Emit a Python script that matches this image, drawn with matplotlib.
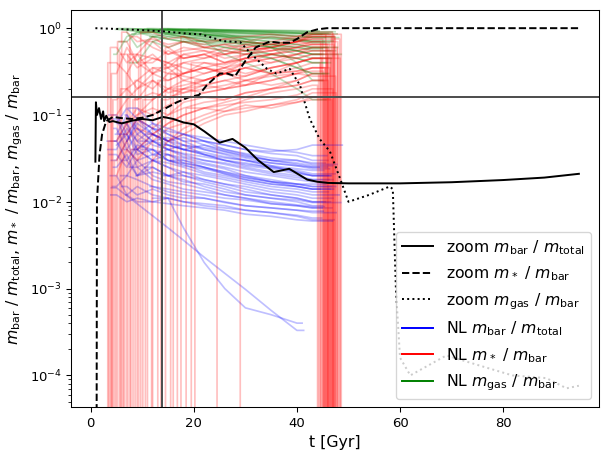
"""
Baryon, stellar and gas fractions of the zoom run against the NL runs.
"""

import numpy as np
import matplotlib

matplotlib.use("Agg")
import matplotlib.pyplot as plt
from matplotlib.lines import Line2D

# ----------------------------------------------------
# Zoom run
# ----------------------------------------------------

zoom_bar_t = [0.9, 1.0, 1.2, 1.6, 2.0, 2.4, 2.6, 3.0, 3.6, 4.3, 6, 8, 10, 12,
              14, 16, 18, 20, 22, 25, 27.5, 30, 32.5, 35.5, 38.5, 42, 44, 46,
              50, 60, 70, 80, 88, 94.7]
zoom_bar = [0.029, 0.14, 0.10, 0.12, 0.09, 0.11, 0.085, 0.098, 0.083, 0.085,
            0.08, 0.086, 0.09, 0.087, 0.095, 0.09, 0.082, 0.078, 0.065, 0.048,
            0.053, 0.042, 0.03, 0.022, 0.024, 0.018, 0.017, 0.0165, 0.0163,
            0.0163, 0.0168, 0.0178, 0.019, 0.021]

zoom_star_t = [1.1, 1.2, 1.7, 2.2, 3.0, 4.3, 6, 8, 10, 12, 14, 16.7, 19, 21,
               22.5, 25, 26.5, 28, 30, 32, 34.7, 36.5, 38.6, 40, 42, 44, 45.8,
               50, 94.7]
zoom_star = [1e-6, 0.01, 0.035, 0.06, 0.085, 0.095, 0.092, 0.09, 0.093, 0.1,
             0.115, 0.14, 0.16, 0.17, 0.22, 0.3, 0.3, 0.28, 0.42, 0.6, 0.7,
             0.68, 0.68, 0.75, 0.9, 0.97, 1.0, 1.0, 1.0]

zoom_gas_t = [0.9, 5, 10, 14, 19.2, 21.4, 25.7, 29, 31.5, 34.2, 36, 38.6,
              40.6, 41.5, 42.5, 44.4, 46.4, 48.3, 50, 54, 58, 58.6, 59.2, 60,
              62, 69, 75.4, 81.8, 88.4, 92.3, 94.7]
zoom_gas = [1.0, 0.98, 0.95, 0.92, 0.86, 0.85, 0.71, 0.69, 0.48, 0.34, 0.30,
            0.34, 0.22, 0.14, 0.09, 0.053, 0.038, 0.019, 0.010, 0.012, 0.015,
            0.014, 1e-3, 1.6e-4, 1e-4, 1.7e-4, 1.3e-4, 1e-4, 9.3e-5, 7.1e-5,
            7.6e-5]

# ----------------------------------------------------
# NL runs (values on a shared time grid, None before the run starts)
# ----------------------------------------------------

nl_t = [5, 7, 9, 12, 15, 18, 22, 26, 30, 35, 40, 43]

nl_bar_start = [3.2, 3.5, 4.0, 3.8, 4.5, 5.5, 6.2, 4.2, 5.0, 7.0, 8.0, 6.8,
                9.5, 3.6, 10.5, 4.8, 12.5, 5.8, 8.5, 3.3, 14.0, 11.0, 7.5,
                6.5, 4.0, 12.0, 3.4, 4.4, 5.3, 6.0, 7.4, 8.8, 3.9, 9.8, 11.5,
                5.1, 13.2, 4.6, 15.5, 6.7]
nl_bar_end = [46.0, 45.5, 46.5, 44.8, 47.0, 46.0, 45.0, 46.8, 45.7, 46.3,
              44.5, 47.2, 45.2, 46.1, 47.0, 45.9, 46.6, 44.9, 47.4, 46.2,
              45.5, 46.9, 45.3, 46.4, 41.3, 41.0, 47.8, 48.5, 46.7, 47.6,
              45.8, 48.2, 46.9, 47.5, 45.1, 48.8, 46.5, 45.6, 47.1, 44.3]
nl_bar = [
    [0.05, 0.08, 0.04, 0.06, 0.05, 0.045, 0.04, 0.035, 0.03, 0.026, 0.022, 0.02],
    [0.1, 0.06, 0.09, 0.07, 0.06, 0.05, 0.05, 0.04, 0.035, 0.03, 0.03, 0.028],
    [0.03, 0.05, 0.025, 0.03, 0.025, 0.02, 0.018, 0.016, 0.014, 0.012, 0.011, 0.01],
    [0.02, 0.012, 0.01, 0.01, 0.011, 0.01, 0.009, 0.0085, 0.008, 0.0075, 0.007, 0.0065],
    [0.07, 0.04, 0.06, 0.045, 0.04, 0.035, 0.03, 0.028, 0.025, 0.022, 0.02, 0.018],
    [None, 0.08, 0.05, 0.07, 0.05, 0.06, 0.05, 0.045, 0.04, 0.036, 0.034, 0.03],
    [None, 0.03, 0.02, 0.025, 0.02, 0.018, 0.015, 0.013, 0.012, 0.011, 0.01, 0.009],
    [0.015, 0.02, 0.03, 0.02, 0.017, 0.016, 0.014, 0.012, 0.011, 0.0095, 0.009, 0.0085],
    [0.045, 0.06, 0.035, 0.04, 0.035, 0.032, 0.028, 0.025, 0.022, 0.02, 0.018, 0.017],
    [None, 0.05, 0.09, 0.06, 0.045, 0.04, 0.037, 0.033, 0.03, 0.028, 0.026, 0.024],
    [None, None, 0.04, 0.03, 0.035, 0.028, 0.025, 0.022, 0.02, 0.017, 0.015, 0.014],
    [None, 0.012, 0.015, 0.012, 0.011, 0.01, 0.0095, 0.009, 0.008, 0.0075, 0.0068, 0.0062],
    [None, None, None, 0.05, 0.04, 0.045, 0.035, 0.032, 0.03, 0.026, 0.024, 0.023],
    [0.035, 0.025, 0.04, 0.03, 0.028, 0.025, 0.021, 0.019, 0.017, 0.015, 0.014, 0.013],
    [None, None, None, 0.025, 0.02, 0.022, 0.018, 0.016, 0.015, 0.013, 0.012, 0.011],
    [0.06, 0.1, 0.07, 0.05, 0.055, 0.045, 0.042, 0.038, 0.034, 0.03, 0.027, 0.025],
    [None, None, None, None, 0.035, 0.03, 0.027, 0.024, 0.02, 0.018, 0.016, 0.015],
    [None, 0.02, 0.018, 0.015, 0.014, 0.013, 0.012, 0.011, 0.0105, 0.0095, 0.009, 0.0085],
    [None, None, 0.07, 0.05, 0.045, 0.04, 0.035, 0.03, 0.027, 0.025, 0.023, 0.021],
    [0.04, 0.07, 0.05, 0.035, 0.04, 0.033, 0.03, 0.027, 0.024, 0.021, 0.019, 0.018],
    [None, None, None, None, None, 0.02, 0.017, 0.015, 0.013, 0.012, 0.011, 0.01],
    [None, None, None, 0.06, 0.05, 0.04, 0.045, 0.038, 0.033, 0.03, 0.028, 0.026],
    [None, None, 0.025, 0.018, 0.016, 0.014, 0.013, 0.012, 0.011, 0.01, 0.0092, 0.0088],
    [None, 0.04, 0.03, 0.035, 0.03, 0.027, 0.022, 0.02, 0.018, 0.016, 0.015, 0.014],
    [0.0145, 0.0117, 0.0095, 0.0069, 0.005, 0.0036, 0.0023, 0.0015, 9.8e-4, 5.6e-4, 3.3e-4, None],
    [None, None, None, None, 0.011, 0.005, 0.002, 0.001, 6e-4, 5e-4, 4e-4, None],
    [0.09, 0.05, 0.08, 0.06, 0.05, 0.055, 0.045, 0.04, 0.036, 0.032, 0.03, 0.027],
    [0.025, 0.035, 0.02, 0.022, 0.02, 0.017, 0.016, 0.014, 0.012, 0.011, 0.0105, 0.0098],
    [None, 0.06, 0.04, 0.05, 0.04, 0.036, 0.033, 0.03, 0.026, 0.024, 0.021, 0.02],
    [None, 0.015, 0.012, 0.014, 0.012, 0.011, 0.011, 0.0098, 0.009, 0.0085, 0.008, 0.0075],
    [None, None, 0.12, 0.08, 0.07, 0.06, 0.055, 0.05, 0.045, 0.04, 0.037, 0.034],
    [None, None, 0.02, 0.03, 0.025, 0.022, 0.02, 0.018, 0.016, 0.014, 0.013, 0.012],
    [0.012, 0.01, 0.011, 0.01, 0.0095, 0.009, 0.0085, 0.008, 0.0072, 0.0068, 0.0062, 0.006],
    [None, None, None, 0.04, 0.03, 0.028, 0.025, 0.022, 0.019, 0.017, 0.016, 0.015],
    [None, None, None, 0.015, 0.013, 0.012, 0.011, 0.01, 0.009, 0.0085, 0.008, 0.0078],
    [0.08, 0.12, 0.09, 0.07, 0.065, 0.06, 0.05, 0.045, 0.04, 0.038, 0.04, 0.045],
    [None, None, None, None, 0.045, 0.04, 0.035, 0.03, 0.028, 0.025, 0.022, 0.02],
    [0.05, 0.03, 0.045, 0.04, 0.03, 0.026, 0.024, 0.021, 0.019, 0.017, 0.016, 0.016],
    [None, None, None, None, None, 0.03, 0.025, 0.021, 0.018, 0.016, 0.015, 0.014],
    [None, 0.1, 0.06, 0.08, 0.06, 0.05, 0.04, 0.036, 0.032, 0.028, 0.026, 0.025],
]

nl_star_start = [3.5, 4.0, 4.6, 5.2, 5.8, 6.5, 7.2, 7.8, 8.6, 9.3, 10.1, 11.0,
                 12.0, 13.0, 14.5, 16.0, 17.5, 18.5, 19.5, 3.8, 4.3, 6.0, 9.0,
                 15.5, 24.5, 3.3, 4.9, 5.6, 6.3, 7.6, 8.2, 10.6, 11.8, 13.6,
                 16.8, 20.2, 4.1, 6.9, 9.7, 29.0]
nl_star_end = [46.0, 45.0, 47.0, 46.5, 44.5, 47.5, 45.6, 46.2, 45.2, 47.2,
               44.8, 46.8, 45.9, 46.0, 47.8, 45.4, 46.7, 44.2, 47.0, 46.4,
               45.1, 47.3, 46.1, 45.7, 48.3, 48.6, 44.0, 47.9, 45.3, 46.9,
               48.0, 44.6, 47.6, 45.8, 46.3, 48.4, 46.6, 45.5, 47.1, 47.4]
nl_star = [
    [0.05, 0.08, 0.1, 0.15, 0.2, 0.25, 0.3, 0.35, 0.4, 0.5, 0.55, 0.6],
    [0.3, 0.6, 0.4, 0.5, 0.35, 0.4, 0.45, 0.5, 0.55, 0.6, 0.7, 0.75],
    [0.03, 0.05, 0.07, 0.06, 0.08, 0.1, 0.12, 0.13, 0.14, 0.15, 0.17, 0.2],
    [None, 0.7, 0.4, 0.3, 0.25, 0.3, 0.35, 0.32, 0.4, 0.45, 0.5, 0.55],
    [None, 0.2, 0.25, 0.35, 0.3, 0.28, 0.25, 0.3, 0.35, 0.3, 0.35, 0.4],
    [None, 0.08, 0.12, 0.1, 0.13, 0.15, 0.18, 0.2, 0.22, 0.25, 0.3, 0.28],
    [None, None, 0.5, 0.8, 0.6, 0.7, 0.65, 0.75, 0.7, 0.8, 0.75, 0.85],
    [None, None, 0.04, 0.06, 0.05, 0.07, 0.09, 0.11, 0.12, 0.13, 0.14, 0.16],
    [None, None, 0.25, 0.2, 0.3, 0.4, 0.35, 0.3, 0.25, 0.22, 0.25, 0.3],
    [None, None, None, 0.4, 0.55, 0.45, 0.5, 0.6, 0.65, 0.55, 0.6, 0.65],
    [None, None, None, 0.15, 0.2, 0.18, 0.22, 0.25, 0.28, 0.35, 0.4, 0.45],
    [None, None, None, 0.06, 0.08, 0.1, 0.12, 0.11, 0.13, 0.12, 0.14, 0.15],
    [None, None, None, None, 0.35, 0.5, 0.45, 0.55, 0.5, 0.6, 0.7, 0.65],
    [None, None, None, None, 0.25, 0.3, 0.4, 0.38, 0.45, 0.5, 0.45, 0.5],
    [None, None, None, None, 0.6, 0.45, 0.5, 0.4, 0.45, 0.5, 0.55, 0.6],
    [None, None, None, None, None, 0.2, 0.18, 0.2, 0.25, 0.3, 0.32, 0.35],
    [None, None, None, None, None, 0.8, 0.6, 0.65, 0.55, 0.6, 0.7, 0.8],
    [None, None, None, None, None, None, 0.12, 0.14, 0.16, 0.2, 0.25, 0.3],
    [None, None, None, None, None, None, 0.4, 0.35, 0.45, 0.4, 0.5, 0.55],
    [0.6, 0.4, 0.5, 0.3, 0.35, 0.25, 0.22, 0.2, 0.22, 0.25, 0.3, 0.35],
    [0.15, 0.2, 0.15, 0.18, 0.16, 0.18, 0.2, 0.22, 0.25, 0.28, 0.3, 0.32],
    [None, 0.9, 0.7, 0.75, 0.65, 0.7, 0.6, 0.65, 0.7, 0.65, 0.75, 0.8],
    [None, None, 0.1, 0.12, 0.1, 0.14, 0.16, 0.15, 0.18, 0.2, 0.22, 0.25],
    [None, None, None, None, None, 0.3, 0.35, 0.3, 0.4, 0.45, 0.5, 0.6],
    [None, None, None, None, None, None, None, 0.5, 0.55, 0.6, 0.7, 0.75],
    [0.4, 0.3, 0.5, 0.45, 0.4, 0.5, 0.55, 0.5, 0.6, 0.65, 0.7, 0.85],
    [0.02, 0.04, 0.03, 0.05, 0.07, 0.08, 0.1, 0.12, 0.15, 0.18, 0.2, 0.22],
    [None, 0.5, 0.35, 0.45, 0.4, 0.3, 0.35, 0.4, 0.45, 0.5, 0.6, 0.7],
    [None, 0.06, 0.09, 0.07, 0.1, 0.12, 0.14, 0.15, 0.18, 0.2, 0.22, 0.25],
    [None, None, 0.8, 0.6, 0.5, 0.55, 0.6, 0.55, 0.65, 0.7, 0.8, 0.9],
    [None, None, 0.15, 0.25, 0.2, 0.22, 0.25, 0.3, 0.35, 0.4, 0.45, 0.5],
    [None, None, None, 0.7, 0.5, 0.6, 0.55, 0.45, 0.5, 0.55, 0.65, 0.7],
    [None, None, None, 0.03, 0.05, 0.06, 0.08, 0.1, 0.11, 0.13, 0.15, 0.18],
    [None, None, None, None, 0.15, 0.2, 0.25, 0.3, 0.28, 0.35, 0.4, 0.45],
    [None, None, None, None, None, 0.45, 0.5, 0.4, 0.5, 0.55, 0.6, 0.65],
    [None, None, None, None, None, None, 0.25, 0.3, 0.35, 0.3, 0.4, 0.45],
    [0.1, 0.15, 0.2, 0.3, 0.4, 0.35, 0.3, 0.35, 0.3, 0.35, 0.4, 0.45],
    [None, 0.3, 0.2, 0.25, 0.18, 0.2, 0.22, 0.25, 0.22, 0.3, 0.32, 0.35],
    [None, None, None, 0.9, 0.75, 0.8, 0.7, 0.75, 0.8, 0.85, 0.8, 0.85],
    [None, None, None, None, None, None, None, None, 0.6, 0.65, 0.7, 0.8],
]

nl_gas_start = [4.8, 5.5, 6.5, 7.5, 8.5, 9.5, 10.5, 11.5, 12.5, 13.5, 14.5,
                16.0, 17.0, 19.0, 20.5, 6.0, 8.0, 22.0, 5.2, 7.0, 9.0, 11.0,
                12.0, 15.0, 18.0, 4.5, 10.0, 14.0]
nl_gas_end = [46.0, 45.0, 47.0, 46.5, 45.5, 47.5, 44.8, 46.2, 45.3, 46.8,
              45.8, 47.2, 44.6, 46.4, 45.6, 46.0, 47.0, 45.0, 47.8, 48.6,
              46.3, 47.4, 45.9, 48.1, 46.7, 44.9, 47.9, 44.3]
nl_gas = [
    [0.97, 0.95, 0.93, 0.9, 0.88, 0.85, 0.8, 0.78, 0.75, 0.7, 0.65, 0.6],
    [None, 0.7, 0.9, 0.8, 0.85, 0.8, 0.75, 0.7, 0.65, 0.6, 0.55, 0.5],
    [None, 0.95, 0.92, 0.9, 0.88, 0.86, 0.84, 0.82, 0.8, 0.78, 0.75, 0.72],
    [None, None, 0.4, 0.7, 0.6, 0.7, 0.65, 0.6, 0.55, 0.5, 0.45, 0.4],
    [None, None, 0.98, 0.96, 0.95, 0.93, 0.9, 0.88, 0.86, 0.84, 0.8, 0.78],
    [None, None, None, 0.9, 0.85, 0.8, 0.78, 0.72, 0.7, 0.65, 0.6, 0.55],
    [None, None, None, 0.97, 0.96, 0.95, 0.93, 0.92, 0.9, 0.88, 0.87, 0.85],
    [None, None, None, 0.8, 0.75, 0.7, 0.6, 0.55, 0.5, 0.45, 0.35, 0.3],
    [None, None, None, None, 0.95, 0.9, 0.88, 0.85, 0.82, 0.8, 0.75, 0.7],
    [None, None, None, None, 0.98, 0.97, 0.96, 0.95, 0.94, 0.93, 0.92, 0.9],
    [None, None, None, None, 0.85, 0.8, 0.7, 0.65, 0.6, 0.5, 0.45, 0.4],
    [None, None, None, None, None, 0.95, 0.93, 0.9, 0.87, 0.85, 0.83, 0.8],
    [None, None, None, None, None, 0.9, 0.85, 0.8, 0.7, 0.65, 0.55, 0.5],
    [None, None, None, None, None, None, 0.97, 0.95, 0.93, 0.9, 0.88, 0.86],
    [None, None, None, None, None, None, 0.7, 0.5, 0.4, 0.3, 0.2, 0.15],
    [None, 0.98, 0.97, 0.96, 0.95, 0.94, 0.93, 0.92, 0.91, 0.9, 0.88, 0.87],
    [None, None, 0.85, 0.9, 0.88, 0.86, 0.83, 0.8, 0.78, 0.75, 0.72, 0.7],
    [None, None, None, None, None, None, 0.9, 0.85, 0.75, 0.6, 0.4, 0.25],
    [None, 0.99, 0.98, 0.97, 0.96, 0.95, 0.94, 0.93, 0.92, 0.9, 0.88, 0.86],
    [None, 0.9, 0.6, 0.8, 0.75, 0.7, 0.72, 0.68, 0.65, 0.6, 0.55, 0.5],
    [None, None, 0.95, 0.93, 0.9, 0.88, 0.85, 0.83, 0.8, 0.77, 0.72, 0.68],
    [None, None, None, 0.99, 0.98, 0.97, 0.96, 0.95, 0.94, 0.93, 0.92, 0.91],
    [None, None, None, 0.7, 0.8, 0.75, 0.7, 0.6, 0.55, 0.45, 0.35, 0.3],
    [None, None, None, None, 0.97, 0.95, 0.92, 0.9, 0.88, 0.85, 0.8, 0.78],
    [None, None, None, None, None, 0.85, 0.8, 0.75, 0.7, 0.6, 0.5, 0.45],
    [0.5, 0.8, 0.9, 0.85, 0.8, 0.78, 0.75, 0.7, 0.68, 0.65, 0.6, 0.58],
    [None, None, None, 0.95, 0.92, 0.9, 0.85, 0.8, 0.75, 0.7, 0.65, 0.6],
    [None, None, None, None, 0.99, 0.98, 0.97, 0.96, 0.95, 0.95, 0.94, 0.93],
]

t_today = 13.8
f_baryon = 0.16
star_floor = 1e-8


def nl_track(start, end, values, drop=False):
    """Time and value arrays for one NL run."""
    v = np.array(values, dtype=float)
    ok = ~np.isnan(v)
    grid = np.array(nl_t, dtype=float)[ok]
    t = np.concatenate([[start], grid, [end]])
    y = np.concatenate([[v[ok][0]], v[ok], [v[ok][-1]]])
    if drop:
        # no stars before formation / after the run ends
        t = np.concatenate([[start], t, [end]])
        y = np.concatenate([[star_floor], y, [star_floor]])
    return t, y


# ----------------------------------------------------
# Plot
# ----------------------------------------------------

fig, ax = plt.subplots(figsize=(6.4, 4.8), dpi=94.25)
fig.subplots_adjust(left=0.118, right=0.993, top=0.976, bottom=0.099)

n_runs = max(len(nl_bar), len(nl_star), len(nl_gas))
nl_style = dict(alpha=0.25, lw=1.3)

for i in range(n_runs):

    if i < len(nl_bar):
        t, y = nl_track(nl_bar_start[i], nl_bar_end[i], nl_bar[i])
        ax.plot(t, y, color="blue", **nl_style)

    if i < len(nl_star):
        t, y = nl_track(nl_star_start[i], nl_star_end[i], nl_star[i], drop=True)
        ax.plot(t, y, color="red", **nl_style)

    if i < len(nl_gas):
        t, y = nl_track(nl_gas_start[i], nl_gas_end[i], nl_gas[i])
        ax.plot(t, y, color="green", **nl_style)

ax.plot(zoom_bar_t, zoom_bar, color="k", ls="-", lw=1.5)
ax.plot(zoom_star_t, zoom_star, color="k", ls="--", lw=1.5)
ax.plot(zoom_gas_t, zoom_gas, color="k", ls=":", lw=1.5)

ax.axvline(t_today, color="0.3", lw=1.5)
ax.axhline(f_baryon, color="0.3", lw=1.5)

ax.set_yscale("log")
ax.set_xlim(-3.8, 98.6)
ax.set_ylim(4.3e-5, 1.6)

ax.set_xlabel("t [Gyr]", fontsize=12)
ax.set_ylabel(
    r"$m_\mathrm{bar}$ / $m_\mathrm{total}$, $m_*$ / $m_\mathrm{bar}$, "
    r"$m_\mathrm{gas}$ / $m_\mathrm{bar}$",
    fontsize=12
)

handles = [
    Line2D([], [], color="k", ls="-", lw=1.5),
    Line2D([], [], color="k", ls="--", lw=1.5),
    Line2D([], [], color="k", ls=":", lw=1.5),
    Line2D([], [], color="blue", lw=1.5),
    Line2D([], [], color="red", lw=1.5),
    Line2D([], [], color="green", lw=1.5),
]
labels = [
    r"zoom $m_\mathrm{bar}$ / $m_\mathrm{total}$",
    r"zoom $m_*$ / $m_\mathrm{bar}$",
    r"zoom $m_\mathrm{gas}$ / $m_\mathrm{bar}$",
    r"NL $m_\mathrm{bar}$ / $m_\mathrm{total}$",
    r"NL $m_*$ / $m_\mathrm{bar}$",
    r"NL $m_\mathrm{gas}$ / $m_\mathrm{bar}$",
]
ax.legend(handles, labels, loc="lower right", fontsize=12)

plt.savefig("out.png", dpi=94.25)

plt.close()
